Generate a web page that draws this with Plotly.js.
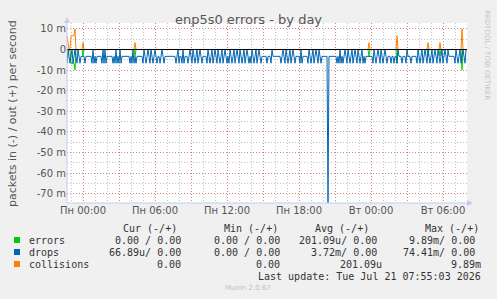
<!DOCTYPE html>
<html>
<head>
<meta charset="utf-8">
<script src="https://cdn.plot.ly/plotly-3.0.1.min.js"></script>
<style>
html,body{margin:0;padding:0;background:#F0F0F0;}
#chart{width:497px;height:299px;}
</style>
</head>
<body>
<div id="chart"></div>
<script>
// ---- data (rates in milli-packets per second, 5-minute samples from Sun 22:40) ----
const sampleMinutes = 5;
const startHour = -4/3; // Sun 22:40 relative to Mon 00:00

const drops = [
  6.67,0,3.33,6.67,3.33,0,6.67,3.33,0,3.33,6.67,0,3.33,6.67,
  3.33,3.33,3.33,3.33,6.67,3.33,3.33,3.33,3.33,3.33,3.33,
  6.67,0,6.67,3.33,6.67,3.33,
  3.33,3.33,3.33,3.33,
  6.67,0,6.67,0,6.67,3.33,
  3.33,3.33,3.33,3.33,3.33,6.67,3.33,
  6.67,0,6.67,3.33,6.67,0,6.67,3.33,
  3.33,3.33,3.33,3.33,3.33,3.33,3.33,
  6.67,3.33,6.67,0,6.67,3.33,6.67,3.33,
  3.33,3.33,3.33,3.33,3.33,
  6.67,0,3.33,6.67,3.33,0,3.33,6.67,0,3.33,6.67,3.33,0,3.33,6.67,
  3.33,3.33,6.67,3.33,0,3.33,6.67,3.33,3.33,3.33,
  3.33,3.33,3.33,3.33,3.33,3.33,3.33,
  3.33,6.67,3.33,0,6.67,3.33,3.33,6.67,0,6.67,3.33,3.33,3.33,
  6.67,3.33,0,3.33,6.67,0,3.33,6.67,3.33,0,6.67,3.33,0,3.33,6.67,3.33,
  3.33,3.33,3.33,
  6.67,0,3.33,6.67,3.33,0,6.67,3.33,0,3.33,6.67,0,3.33,6.67,3.33,0,6.67,3.33,0,3.33,6.67,
  3.33,6.67,0,3.33,6.67,3.33,0,6.67,3.33,0,3.33,6.67,0,3.33,6.67,3.33,0,6.67,3.33,0,3.33,6.67,3.33,
  6.67,0,3.33,6.67,3.33,0,6.67,3.33,0,3.33,6.67,3.33,3.33,
  3.33,3.33,3.33,6.67,3.33,3.33,3.33,6.67,0,3.33,3.33,3.33,3.33,3.33,3.33,3.33,3.33,
  6.67,3.33,0,3.33,6.67,0,3.33,6.67,3.33,0,6.67,3.33,0,3.33,6.67,
  3.33,3.33,3.33,3.33,
  6.67,0,6.67,3.33,
  3.33,3.33,3.33,3.33,
  6.67,0,3.33,6.67,3.33,0,6.67,3.33,0,3.33,6.67,0,3.33,6.67,3.33,3.33,
  3.33,3.33,3.33,3.33,
  74.41,
  3.33,3.33,3.33,3.33,3.33,3.33,3.33,3.33,
  6.67,3.33,6.67,0,6.67,3.33,
  6.67,3.33,0,3.33,6.67,0,3.33,6.67,3.33,0,6.67,3.33,0,3.33,6.67,0,3.33,6.67,3.33,0,6.67,3.33,6.67,
  3.33,3.33,3.33,3.33,3.33,3.33,3.33,
  6.67,0,3.33,6.67,3.33,0,3.33,6.67,0,3.33,6.67,3.33,0,3.33,6.67,
  3.33,3.33,3.33,6.67,3.33,3.33,6.67,3.33,3.33,
  6.67,0,3.33,
  3.33,3.33,6.67,3.33,3.33,3.33,6.67,0,3.33,3.33,3.33,6.67,3.33,3.33,3.33,3.33,3.33,
  6.67,0,3.33,6.67,3.33,0,6.67,3.33,0,3.33,6.67,0,3.33,6.67,3.33,0,6.67,3.33,0,3.33,6.67,0,3.33,6.67,3.33,0,6.67,3.33,0,3.33,6.67,0,3.33,3.33,
  3.33,3.33,3.33,3.33,
  6.67,0,3.33,6.67,3.33,0,6.67,3.33,0,3.33,6.67,0.07
];

// sparse events: sample index and value (all other samples are 0)
const eventIndex      = [0,1,4,5,6,7,8,16,68,302,330,361,373,395];
const collisionEvents = [6.67,3.33,6.67,6.67,6.67,6.67,9.89,3.33,3.33,3.33,6.67,3.33,3.33,9.89];
const errorEvents     = [6.67,3.33,6.67,6.67,6.67,6.67,9.89,3.33,3.33,3.33,6.67,3.33,3.33,9.89];

const tickHours  = [0,3,6,9,12,15,18,21,24,27,30];
const tickLabels = ['Пн 00:00','','Пн 06:00','','Пн 12:00','','Пн 18:00','','Вт 00:00','','Вт 06:00'];
const yTickVals  = [-70,-60,-50,-40,-30,-20,-10,0,10];
const yTickText  = ['-70 m','-60 m','-50 m','-40 m','-30 m','-20 m','-10 m','0','10 m'];

const legendRows = [
  {name:'errors',     color:'#00CC00', cur:'0.00 / 0.00',  min:'0.00 / 0.00', avg:'201.09u/ 0.00', max:'9.89m/ 0.00'},
  {name:'drops',      color:'#0066B3', cur:'66.89u/ 0.00', min:'0.00 / 0.00', avg:'3.72m/ 0.00',   max:'74.41m/ 0.00'},
  {name:'collisions', color:'#FF8000', cur:'0.00',         min:'0.00',        avg:'201.09u',       max:'9.89m'}
];

// ---- build series ----
const n = drops.length;
const times = drops.map((_, i) => startHour + i * sampleMinutes / 60);
const errors = new Array(n).fill(0);
const collisions = new Array(n).fill(0);
eventIndex.forEach((k, j) => { errors[k] = errorEvents[j]; collisions[k] = collisionEvents[j]; });

// ---- geometry helpers ----
const W = 497, H = 299, ML = 67, MR = 30, MT = 23, MB = 96;
const PW = W - ML - MR, PH = H - MT - MB;
const px = x => (x - ML) / PW;
const py = y => (H - MB - y) / PH;

const traces = [
  {x: times, y: errors.map(v => -v), name: 'errors', type: 'scatter', mode: 'lines',
   line: {color: '#00CC00', width: 1}},
  {x: times, y: drops.map(v => -v), name: 'drops', type: 'scatter', mode: 'lines',
   line: {color: '#0066B3', width: 1}},
  {x: times, y: collisions, name: 'collisions', type: 'scatter', mode: 'lines',
   line: {color: '#FF8000', width: 1}}
];

const monoFont = {family: 'DejaVu Sans Mono', size: 10, color: '#333'};
const ann = [];
function txt(x, y, text, anchor, font, extra) {
  ann.push(Object.assign({xref: 'paper', yref: 'paper', x: px(x), y: py(y), text: text,
    showarrow: false, xanchor: anchor, yanchor: 'middle', font: font}, extra || {}));
}
// y axis title
txt(12, 114, 'packets in (-) / out (+) per second', 'center', {family: 'DejaVu Sans', size: 11, color: '#555'}, {textangle: -90});
// right side credit
txt(487, 55, 'RRDTOOL / TOBI OETIKER', 'center', {family: 'DejaVu Sans', size: 7, color: '#c4c4c4'}, {textangle: 90});
// legend header
txt(121, 228, 'Cur (-/+)', 'left', monoFont);
txt(222, 228, 'Min (-/+)', 'left', monoFont);
txt(313, 228, 'Avg (-/+)', 'left', monoFont);
txt(423, 228, 'Max (-/+)', 'left', monoFont);
const shapes = [];
legendRows.forEach((r, i) => {
  const y = 240 + i * 12;
  txt(27, y, r.name, 'left', monoFont);
  const single = (i === 2);
  txt(183, y, r.cur, 'right', monoFont);
  txt(282, y, r.min, 'right', monoFont);
  txt(single ? 384 : 379, y, r.avg, 'right', monoFont);
  txt(single ? 483 : 477, y, r.max, 'right', monoFont);
  shapes.push({type: 'rect', xref: 'paper', yref: 'paper', x0: px(14), x1: px(20), y0: py(y - 3), y1: py(y + 3),
    fillcolor: r.color, line: {width: 0}});
});
txt(483, 276, 'Last update: Tue Jul 21 07:55:03 2026', 'right', monoFont);
txt(248, 288, 'Munin 2.0.67', 'center', {family: 'DejaVu Sans', size: 7, color: '#c0c0c0'});

// black zero rule drawn above the series
shapes.push({type: 'line', xref: 'paper', yref: 'y', x0: 0, x1: 1, y0: 0, y1: 0, layer: 'above',
  line: {color: '#000000', width: 1}});
// axis lines and arrows
const axisCol = '#c8c8f0';
shapes.push({type: 'line', xref: 'paper', yref: 'paper', x0: px(67), x1: px(67), y0: py(203), y1: py(20), line: {color: axisCol, width: 1}});
shapes.push({type: 'line', xref: 'paper', yref: 'paper', x0: px(67), x1: px(470), y0: py(203), y1: py(203), line: {color: axisCol, width: 1}});
shapes.push({type: 'path', xref: 'paper', yref: 'paper',
  path: `M ${px(64)} ${py(23)} L ${px(70)} ${py(23)} L ${px(67)} ${py(17)} Z`, fillcolor: axisCol, line: {color: axisCol, width: 0}});
shapes.push({type: 'path', xref: 'paper', yref: 'paper',
  path: `M ${px(467)} ${py(200)} L ${px(467)} ${py(206)} L ${px(473)} ${py(203)} Z`, fillcolor: axisCol, line: {color: axisCol, width: 0}});

const majorGrid = 'rgba(220,110,110,0.75)';
const minorGrid = 'rgba(170,170,170,0.7)';
const layout = {
  width: W, height: H,
  margin: {l: ML, r: MR, t: MT, b: MB, pad: 0},
  paper_bgcolor: '#F0F0F0', plot_bgcolor: '#FFFFFF',
  showlegend: false,
  title: {text: 'enp5s0 errors - by day', font: {family: 'DejaVu Sans', size: 13, color: '#555'},
    x: 0.5, xref: 'container', xanchor: 'center', y: 1 - 19 / H, yref: 'container', yanchor: 'middle'},
  xaxis: {range: [startHour, 32], tickmode: 'array', tickvals: tickHours, ticktext: tickLabels,
    showgrid: true, gridcolor: majorGrid, griddash: '1px,2px', gridwidth: 1,
    minor: {dtick: 1, tick0: 0, showgrid: true, gridcolor: minorGrid, griddash: '1px,2px', gridwidth: 1},
    zeroline: false, showline: false, ticks: '', fixedrange: true,
    tickfont: {family: 'DejaVu Sans', size: 10, color: '#555'}},
  yaxis: {range: [-74.52, 12.86], tickmode: 'array', tickvals: yTickVals, ticktext: yTickText,
    showgrid: true, gridcolor: majorGrid, griddash: '1px,2px', gridwidth: 1,
    minor: {dtick: 5, tick0: 0, showgrid: true, gridcolor: minorGrid, griddash: '1px,2px', gridwidth: 1},
    zeroline: false,
    showline: false, ticks: '', fixedrange: true,
    tickfont: {family: 'DejaVu Sans', size: 10, color: '#555'}},
  annotations: ann,
  shapes: shapes
};

Plotly.newPlot('chart', traces, layout, {staticPlot: true, displayModeBar: false});
</script>
</body>
</html>
